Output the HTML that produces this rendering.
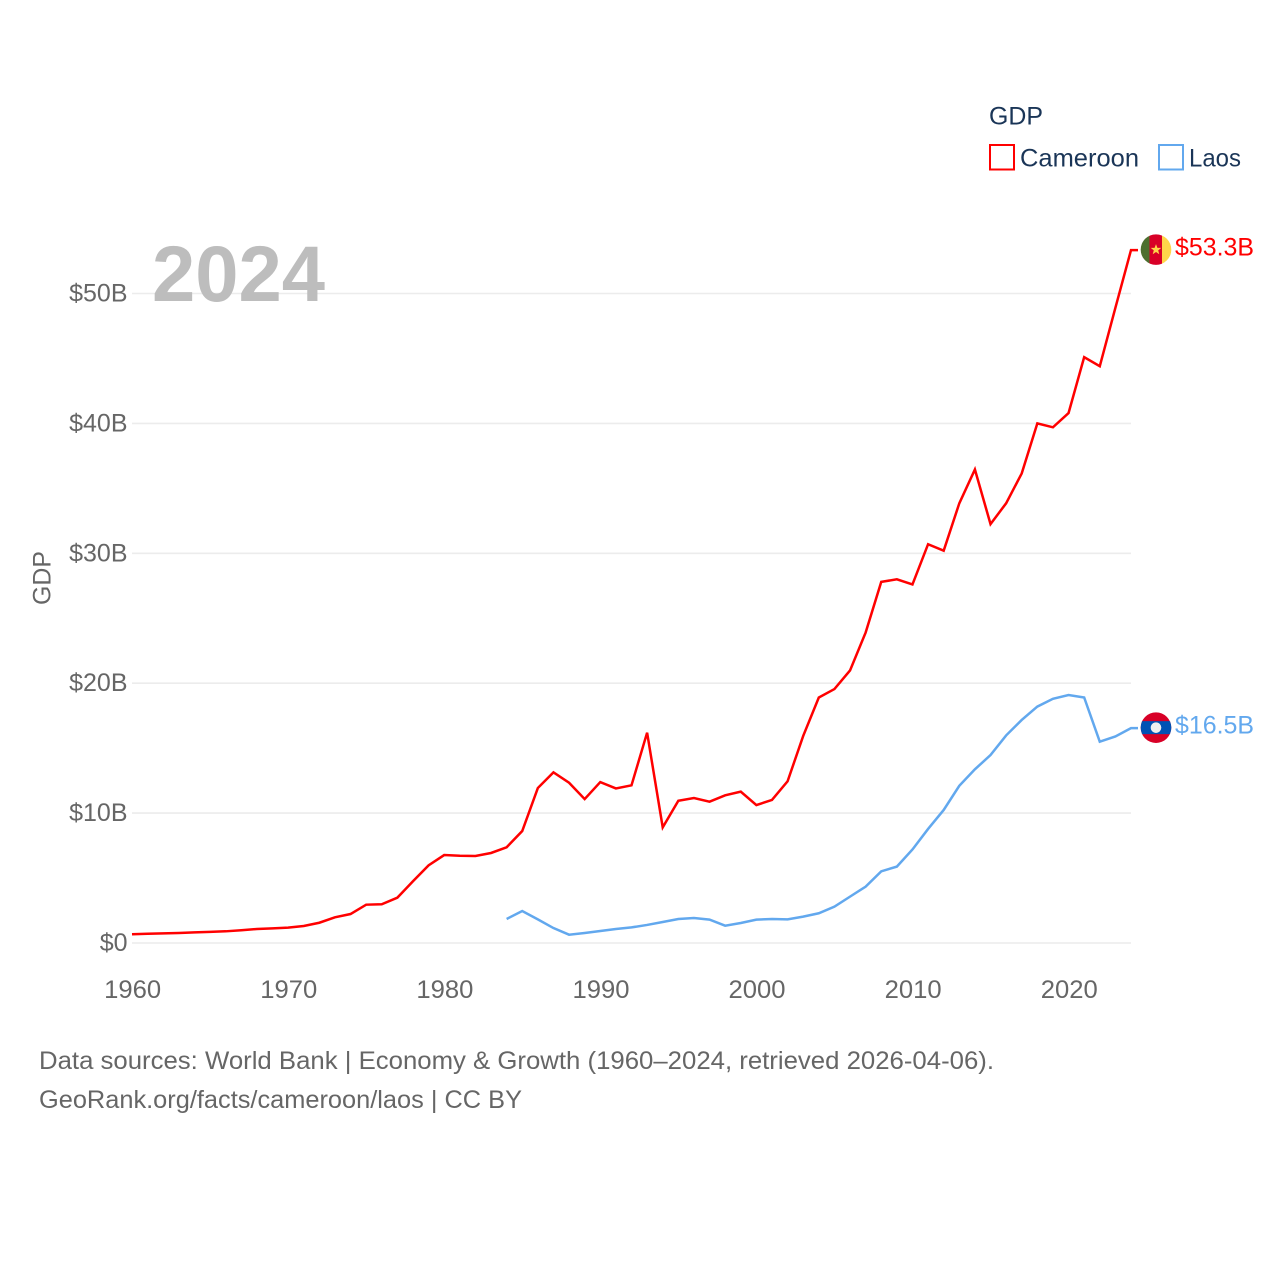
<!DOCTYPE html>
<html lang="en">
<head>
<meta charset="utf-8">
<title>GDP: Cameroon and Laos</title>
<style>
html,body{margin:0;padding:0;background:#fff;}
svg{display:block;font-family:"Liberation Sans",sans-serif;}
</style>
</head>
<body>
<svg id="chart" xmlns="http://www.w3.org/2000/svg" width="1280" height="1280" viewBox="0 0 1280 1280">
  <rect x="0" y="0" width="1280" height="1280" fill="#ffffff"/>
  <g id="grid"></g>
  <text x="152" y="301" font-size="79" font-weight="700" fill="#bdbdbd" textLength="173" lengthAdjust="spacingAndGlyphs">2024</text>
  <g id="yticks"></g>
  <g id="xticks"></g>
  <text transform="translate(50.5,578) rotate(-90)" text-anchor="middle" font-size="25" fill="#666666" textLength="54" lengthAdjust="spacingAndGlyphs">GDP</text>
  <g id="series"></g>
  <g id="ends"></g>
  <g>
    <text x="989" y="124.5" font-size="25" fill="#1a3557" textLength="54" lengthAdjust="spacingAndGlyphs">GDP</text>
    <rect x="990" y="145" width="24" height="24.5" fill="none" stroke="#ff0000" stroke-width="2"/>
    <text x="1020" y="166.5" font-size="25" fill="#1a3557" textLength="119" lengthAdjust="spacingAndGlyphs">Cameroon</text>
    <rect x="1159" y="145" width="24" height="24.5" fill="none" stroke="#62a8ee" stroke-width="2"/>
    <text x="1189" y="166.5" font-size="25" fill="#1a3557" textLength="52" lengthAdjust="spacingAndGlyphs">Laos</text>
  </g>
  <g>
    <text x="39" y="1069" font-size="25" fill="#666666" textLength="955" lengthAdjust="spacingAndGlyphs">Data sources: World Bank | Economy &amp; Growth (1960–2024, retrieved 2026-04-06).</text>
    <text x="39" y="1108" font-size="25" fill="#666666" textLength="483" lengthAdjust="spacingAndGlyphs">GeoRank.org/facts/cameroon/laos | CC BY</text>
  </g>
</svg>
<script>
const years = [1960,1961,1962,1963,1964,1965,1966,1967,1968,1969,1970,1971,1972,1973,1974,1975,1976,1977,1978,1979,1980,1981,1982,1983,1984,1985,1986,1987,1988,1989,1990,1991,1992,1993,1994,1995,1996,1997,1998,1999,2000,2001,2002,2003,2004,2005,2006,2007,2008,2009,2010,2011,2012,2013,2014,2015,2016,2017,2018,2019,2020,2021,2022,2023,2024];
const cameroonGdp = [0.67,0.71,0.74,0.77,0.82,0.86,0.90,0.98,1.08,1.13,1.18,1.31,1.56,1.98,2.23,2.95,2.98,3.49,4.75,5.98,6.77,6.72,6.70,6.93,7.37,8.62,11.93,13.14,12.34,11.08,12.39,11.90,12.14,16.19,8.90,10.95,11.16,10.88,11.37,11.65,10.62,11.01,12.45,15.94,18.90,19.55,20.98,23.90,27.80,28.00,27.60,30.70,30.20,33.85,36.45,32.25,33.85,36.15,40.00,39.70,40.80,45.10,44.40,48.90,53.34];
const laosYears = [1984,1985,1986,1987,1988,1989,1990,1991,1992,1993,1994,1995,1996,1997,1998,1999,2000,2001,2002,2003,2004,2005,2006,2007,2008,2009,2010,2011,2012,2013,2014,2015,2016,2017,2018,2019,2020,2021,2022,2023,2024];
const laosGdp = [1.85,2.46,1.82,1.15,0.64,0.77,0.92,1.08,1.20,1.39,1.62,1.85,1.92,1.80,1.33,1.54,1.80,1.85,1.82,2.03,2.29,2.80,3.57,4.34,5.52,5.88,7.20,8.78,10.24,12.10,13.37,14.47,15.98,17.17,18.20,18.80,19.09,18.90,15.50,15.90,16.54];
const yTickValues = [0,10,20,30,40,50];
const yTickLabels = ["$0","$10B","$20B","$30B","$40B","$50B"];
const xTickValues = [1960,1970,1980,1990,2000,2010,2020];
const xTickLabels = ["1960","1970","1980","1990","2000","2010","2020"];

const NS = "http://www.w3.org/2000/svg";
const plotLeft = 132, plotRight = 1131, plotBottom = 943, pxPerBillion = 12.99;
function xScale(year){ return plotLeft + (year - 1960) * (plotRight - plotLeft) / 64; }
function yScale(v){ return plotBottom - v * pxPerBillion; }
function make(tag, attrs, parent){
  const el = document.createElementNS(NS, tag);
  for (const k in attrs) el.setAttribute(k, attrs[k]);
  parent.appendChild(el);
  return el;
}
const gridG = document.getElementById("grid");
const yG = document.getElementById("yticks");
const xG = document.getElementById("xticks");
const seriesG = document.getElementById("series");
const endsG = document.getElementById("ends");

yTickValues.forEach(function(v, i){
  const line = make("line", {x1:plotLeft, x2:plotRight, y1:yScale(v), y2:yScale(v), stroke:"#ececec", "stroke-width":1.6}, gridG);
  
  
  const t = make("text", {x:127.5, y:yScale(v) + 8, "text-anchor":"end", "font-size":25, fill:"#666666"}, yG);
  
  
  t.textContent = yTickLabels[i];
});
xTickValues.forEach(function(yr, i){
  const t = make("text", {x:xScale(yr) + 0.7, y:998, "text-anchor":"middle", "font-size":25, fill:"#666666", textLength:57, lengthAdjust:"spacingAndGlyphs"}, xG);
  
  
  t.textContent = xTickLabels[i];
});

function drawSeries(xs, vs, color, name){
  const pts = xs.map(function(yr, i){ return xScale(yr).toFixed(2) + "," + yScale(vs[i]).toFixed(2); });
  const lastY = yScale(vs[vs.length - 1]);
  pts.push("1138," + lastY.toFixed(2));
  const p = make("polyline", {points:pts.join(" "), fill:"none", stroke:color, "stroke-width":2.5, "stroke-linejoin":"miter"}, seriesG);
  
  
  return lastY;
}
const camY = drawSeries(years, cameroonGdp, "#ff0000", "cameroon");
const laoY = drawSeries(laosYears, laosGdp, "#62a8ee", "laos");

function endLabel(v, y, color, name){
  const t = make("text", {x:1175, y:y + 5.5, "font-size":25, fill:color, textLength:79, lengthAdjust:"spacingAndGlyphs"}, endsG);
  
  
  t.textContent = "$" + v.toFixed(1) + "B";
}
endLabel(cameroonGdp[cameroonGdp.length - 1], camY, "#ff0000", "cameroon");
endLabel(laosGdp[laosGdp.length - 1], laoY, "#62a8ee", "laos");

const camFlagY = camY - 0.5;
const laoFlagY = laoY - 0.5;
function clipFor(id, y){
  const defs = make("clipPath", {id:id}, endsG);
  make("circle", {cx:1156, cy:y, r:15.3}, defs);
}
clipFor("clip-cm", camFlagY);
clipFor("clip-la", laoFlagY);

const cm = make("g", {"clip-path":"url(#clip-cm)"}, endsG);


make("rect", {x:1140, y:camFlagY - 16, width:9.5, height:32, fill:"#4d6f2f"}, cm);
make("rect", {x:1149.5, y:camFlagY - 16, width:12.5, height:32, fill:"#d80027"}, cm);
make("rect", {x:1162, y:camFlagY - 16, width:10, height:32, fill:"#ffd54a"}, cm);
make("path", {d:"M0,-5.5 L1.4,-1.8 L5.3,-1.7 L2.2,0.8 L3.3,4.6 L0,2.4 L-3.3,4.6 L-2.2,0.8 L-5.3,-1.7 L-1.4,-1.8 Z", transform:"translate(1156," + camFlagY + ")", fill:"#ffd54a"}, cm);

const la = make("g", {"clip-path":"url(#clip-la)"}, endsG);


make("rect", {x:1140, y:laoFlagY - 16, width:32, height:32, fill:"#d80027"}, la);
make("rect", {x:1140, y:laoFlagY - 6.5, width:32, height:13, fill:"#0052b4"}, la);
make("circle", {cx:1156, cy:laoFlagY, r:5.3, fill:"#f0f0f0"}, la);
</script>
</body>
</html>
